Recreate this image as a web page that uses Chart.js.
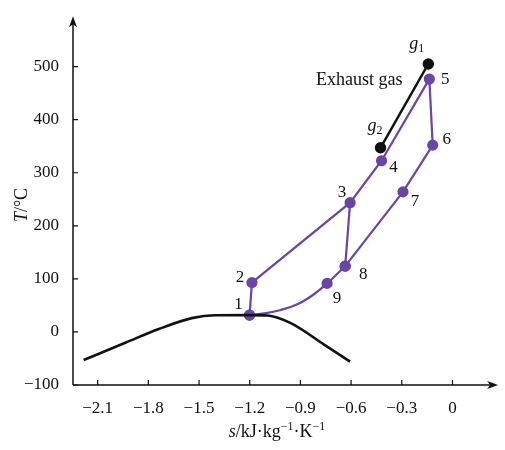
<!DOCTYPE html>
<html>
<head>
<meta charset="utf-8">
<script src="https://cdn.jsdelivr.net/npm/chart.js@4/dist/chart.umd.min.js"></script>
<style>
html,body{margin:0;padding:0;background:#fff;}
#wrap{width:505px;height:450px;position:relative;}
</style>
</head>
<body>
<div id="wrap"><canvas id="c" width="505" height="450"></canvas></div>
<script>
// ---- data ----
const xTicks = [-2.1, -1.8, -1.5, -1.2, -0.9, -0.6, -0.3, 0];
const yTicks = [-100, 0, 100, 200, 300, 400, 500];

// saturation dome (s, T)
const domeS = [-2.183, -1.933, -1.738, -1.543, -1.406, -1.20, -1.094, -0.957, -0.762, -0.606];
const domeT = [-53, -20, 5.5, 26, 31.5, 31.7, 31, 16.6, -23.3, -56];

// cycle state points 1..9
const stateNames = ['1', '2', '3', '4', '5', '6', '7', '8', '9'];
const stateS = [-1.201, -1.187, -0.606, -0.420, -0.137, -0.117, -0.293, -0.635, -0.742];
const stateT = [31.7, 93, 243.6, 322.6, 476.5, 352, 264, 124, 91.5];

// curved 1 -> 9 -> 8 branch
const curveS = [-1.201, -1.113, -1.016, -0.918, -0.82, -0.742, -0.635];
const curveT = [31.7, 35, 41.4, 52, 71, 91.5, 124];

// exhaust gas line g1 -> g2
const gasNames = ['g1', 'g2'];
const gasS = [-0.143, -0.426];
const gasT = [505, 347];

const purple = '#6a45a8';
const pts = (xs, ys) => xs.map((x, i) => ({x: x, y: ys[i]}));
const idx = n => stateNames.indexOf(n);
const stateP = pts(stateS, stateT);
const path = ['1','2','3','4','5','6','7','8'].map(n => stateP[idx(n)]);

// label offsets in pixels relative to their points (style, not data)
const labelOffsets = {
  '1': [-11, -11], '2': [-12, -5], '3': [-8, -10], '4': [12, 7], '5': [16, 0],
  '6': [14, -6], '7': [12, 10], '8': [18, 8], '9': [10, 15]
};

const serif = '"Liberation Serif", "DejaVu Serif", serif';
const fmt = v => (v < 0 ? '\u2212' + String(Math.abs(v)) : String(v));

const axesPlugin = {
  id: 'axesPlugin',
  afterDraw(chart) {
    const ctx = chart.ctx;
    const xs = chart.scales.x, ys = chart.scales.y;
    const a = chart.chartArea;
    const x0 = a.left, y0 = a.bottom;
    ctx.save();
    ctx.strokeStyle = '#111';
    ctx.fillStyle = '#111';
    ctx.lineWidth = 1.5;
    ctx.beginPath();
    ctx.moveTo(x0, y0); ctx.lineTo(a.right - 6, y0);
    ctx.moveTo(x0, y0); ctx.lineTo(x0, a.top + 6);
    ctx.stroke();
    ctx.beginPath();
    ctx.moveTo(a.right, y0); ctx.lineTo(a.right - 11, y0 - 4); ctx.lineTo(a.right - 8, y0); ctx.lineTo(a.right - 11, y0 + 4); ctx.closePath();
    ctx.fill();
    ctx.beginPath();
    ctx.moveTo(x0, a.top); ctx.lineTo(x0 - 4, a.top + 11); ctx.lineTo(x0, a.top + 8); ctx.lineTo(x0 + 4, a.top + 11); ctx.closePath();
    ctx.fill();
    ctx.lineWidth = 1.2;
    ctx.beginPath();
    xTicks.forEach(v => { const p = xs.getPixelForValue(v); ctx.moveTo(p, y0); ctx.lineTo(p, y0 - 5); });
    yTicks.forEach(v => { const p = ys.getPixelForValue(v); ctx.moveTo(x0, p); ctx.lineTo(x0 + 5, p); });
    ctx.stroke();

    // axis titles with mixed styles
    ctx.fillStyle = '#111';
    ctx.textBaseline = 'alphabetic';
    const parts = [
      {t: 's', f: 'italic 18px ' + serif, dy: 0},
      {t: '/kJ\u00b7kg', f: '18px ' + serif, dy: 0},
      {t: '\u22121', f: '12px ' + serif, dy: -7},
      {t: '\u00b7K', f: '18px ' + serif, dy: 0},
      {t: '\u22121', f: '12px ' + serif, dy: -7}
    ];
    let w = 0;
    parts.forEach(p => { ctx.font = p.f; p.w = ctx.measureText(p.t).width; w += p.w; });
    let cx = (xs.getPixelForValue(-1.2) + xs.getPixelForValue(-0.9)) / 2 - w / 2 + 2;
    const by = 437;
    parts.forEach(p => { ctx.font = p.f; ctx.fillText(p.t, cx, by + p.dy); cx += p.w; });

    ctx.save();
    ctx.translate(27, 205);
    ctx.rotate(-Math.PI / 2);
    const yparts = [
      {t: 'T', f: 'italic 18px ' + serif},
      {t: '/\u00b0C', f: '18px ' + serif}
    ];
    let yw = 0;
    yparts.forEach(p => { ctx.font = p.f; p.w = ctx.measureText(p.t).width; yw += p.w; });
    let yx = -yw / 2;
    yparts.forEach(p => { ctx.font = p.f; ctx.fillText(p.t, yx, 0); yx += p.w; });
    ctx.restore();
    ctx.restore();
  },
  afterDatasetsDraw(chart) {
    const ctx = chart.ctx;
    const xs = chart.scales.x, ys = chart.scales.y;
    ctx.save();
    ctx.fillStyle = '#111';
    ctx.textAlign = 'center';
    ctx.textBaseline = 'middle';
    ctx.font = '17px ' + serif;
    stateNames.forEach((n, i) => {
      const px = xs.getPixelForValue(stateS[i]), py = ys.getPixelForValue(stateT[i]);
      const o = labelOffsets[n];
      ctx.fillText(n, px + o[0], py + o[1]);
    });
    const gOff = [[-10, -20], [-4, -22]];
    gasNames.forEach((n, i) => {
      const px = xs.getPixelForValue(gasS[i]) + gOff[i][0], py = ys.getPixelForValue(gasT[i]) + gOff[i][1];
      ctx.font = 'italic 18px ' + serif;
      ctx.textAlign = 'right';
      ctx.fillText('g', px, py);
      ctx.font = '12px ' + serif;
      ctx.textAlign = 'left';
      ctx.fillText(n.slice(1), px, py + 5);
    });
    ctx.font = '18px ' + serif;
    ctx.textAlign = 'center';
    const ex = xs.getPixelForValue(gasS[0]) - 69, ey = ys.getPixelForValue(gasT[0]) + 16;
    ctx.fillText('Exhaust gas', ex, ey);
    ctx.restore();
  }
};

new Chart(document.getElementById('c'), {
  type: 'scatter',
  data: {
    datasets: [
      { label: 'dome', data: pts(domeS, domeT), showLine: true, borderColor: '#111', borderWidth: 2.6,
        pointRadius: 0, cubicInterpolationMode: 'monotone' },
      { label: 'cycle', data: path, showLine: true, borderColor: purple, borderWidth: 2.2,
        pointRadius: 4.5, pointBackgroundColor: purple, pointBorderColor: purple, tension: 0 },
      { label: 'curve', data: pts(curveS, curveT), showLine: true, borderColor: purple, borderWidth: 2.2,
        pointRadius: curveS.map(s => stateS.includes(s) ? 4.5 : 0),
        pointBackgroundColor: purple, pointBorderColor: purple, cubicInterpolationMode: 'monotone' },
      { label: '3-8', data: [stateP[idx('3')], stateP[idx('8')]], showLine: true, borderColor: purple, borderWidth: 2.2,
        pointRadius: 0 },
      { label: 'gas', data: pts(gasS, gasT), showLine: true, borderColor: '#111', borderWidth: 2.4,
        pointRadius: 4.5, pointBackgroundColor: '#111', pointBorderColor: '#111' }
    ]
  },
  options: {
    responsive: false,
    animation: false,
    clip: false,
    layout: { padding: { top: 8, right: 2, left: 0, bottom: 0 } },
    plugins: { legend: { display: false }, tooltip: { enabled: false } },
    scales: {
      x: {
        type: 'linear', min: -2.246, max: 0.27,
        grid: { display: false }, border: { display: false },
        afterBuildTicks: s => { s.ticks = xTicks.map(v => ({value: v})); },
        afterFit: s => { s.height = 65; },
        ticks: { color: '#111', padding: 5, maxRotation: 0, autoSkip: false,
          font: { family: serif, size: 17 }, callback: v => fmt(v) }
      },
      y: {
        type: 'linear', min: -100, max: 595,
        grid: { display: false }, border: { display: false },
        afterBuildTicks: s => { s.ticks = yTicks.map(v => ({value: v})); },
        afterFit: s => { s.width = 73; },
        ticks: { color: '#111', padding: 6, autoSkip: false,
          font: { family: serif, size: 17 }, callback: v => fmt(v) }
      }
    }
  },
  plugins: [axesPlugin]
});
</script>
</body>
</html>
